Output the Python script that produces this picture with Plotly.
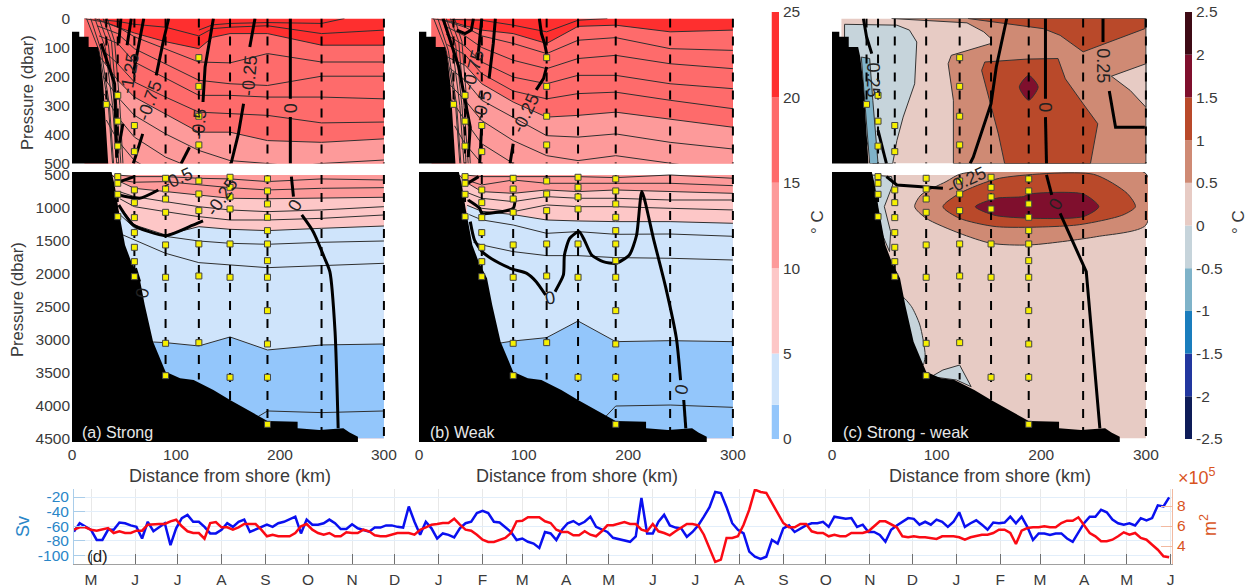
import pandas as pd
import plotly.graph_objects as go

W, H = 1252, 587
FONT = "Liberation Sans"
TXT = "#3a3a3a"

# ---------- colour levels ----------
TEMP_LEVELS = [0, 2, 5, 10, 15, 20, 25]
TEMP_COLORS = ["#93c6fb", "#cfe4fb", "#fdc7c7", "#fd9a9a", "#fe6b6b", "#fe2f2f"]
DIFF_LEVELS = [-2.5, -2, -1.5, -1, -0.5, 0, 0.5, 1, 1.5, 2, 2.5]
DIFF_COLORS = ["#0e1c58", "#22379f", "#1a7dbd", "#7fb3c9", "#c6d4db",
               "#e7cbc4", "#cf8a74", "#b9492a", "#7f0f2d", "#3e0a15"]
TEMP_TICKS = [0, 5, 10, 15, 20, 25]
DIFF_TICKS = ["-2.5", "-2", "-1.5", "-1", "-0.5", "0", "0.5", "1", "1.5", "2", "2.5"]

# ---------- bathymetry (km, dbar) ----------
LAND_UP_X = [0, 0, 7, 7, 16, 16, 25, 27, 30, 33, 35, 35]
LAND_UP_P = [510, 46, 46, 63, 63, 98, 98, 133, 225, 398, 500, 510]
LAND_LO_X = [0, 0, 38, 41, 44.5, 48, 51, 57, 65, 70, 78, 90, 104, 117, 136, 152, 174, 188,
             217, 217, 238, 261, 267, 275, 275]
LAND_LO_P = [4545, 450, 450, 651, 1005, 1283, 1560, 1813, 2065, 2470, 3025, 3480, 3580, 3606,
             3757, 3909, 4111, 4227, 4237, 4338, 4363, 4338, 4400, 4464, 4545]

# ---------- stations: x, bottom of dashed line ----------
ST_X = [33, 44, 60, 90, 122, 152, 188, 240, 300]
ST_UP_END = [296, 500, 500, 500, 500, 500, 500, 500, 500]
ST_LO_END = [500, 1131, 2040, 3540, 3600, 3909, 4277, 4363, 4490]

# ---------- sample points ----------
SAMP_UP_X = [33, 44, 44, 44, 60, 60, 122, 122, 122, 122]
SAMP_UP_P = [296, 265, 354, 440, 369, 459, 135, 234, 337, 436]
SAMP_LO_X = [44, 44, 44, 44, 60, 60, 60, 60, 60, 60, 60,
             90, 90, 90, 90, 90, 90, 90, 90,
             122, 122, 122, 122, 122, 122,
             152, 152, 152, 152, 152, 152, 152,
             188, 188, 188, 188, 188, 188, 188, 188, 188, 188, 188, 188]
SAMP_LO_P = [525, 626, 793, 1131, 727, 919, 1146, 1373, 1596, 1813, 2040,
             550, 712, 864, 1066, 1560, 2050, 3050, 3540,
             591, 788, 1040, 1545, 2030, 3040,
             535, 687, 833, 1015, 1545, 2050, 3565,
             560, 742, 939, 1141, 1343, 1545, 1798, 2050, 2555, 3060, 3565, 4277]

# ---------- coast-hugging contour lines (upper panels) ----------
COAST_LINES = [([14, 26, 35, 39], [0, 110, 300, 500]),
               ([18, 28, 36, 40], [0, 110, 300, 500]),
               ([22, 32, 39, 43], [0, 100, 300, 500]),
               ([26, 35, 41, 45], [0, 90, 300, 500]),
               ([30, 38, 43, 47], [0, 80, 300, 500]),
               ([34, 41, 46, 49], [0, 80, 300, 500])]

# ---------- panel a ----------
A_UP_T20 = ([12, 30, 44, 60, 90, 122, 135, 152, 188, 240, 300], [0, 12, 30, 50, 80, 104, 65, 52, 52, 92, 92])
A_UP_T15 = ([27, 44, 60, 90, 122, 152, 188, 240, 300], [133, 213, 271, 329, 392, 392, 421, 427, 415])
A_UP_LINES = [
    ([122, 135, 152, 188, 240, 262], [40, 22, 17, 14, 17, 0]),
    ([30, 44, 60, 90, 122, 135, 152, 188, 240, 300], [5, 10, 20, 30, 60, 35, 30, 25, 52, 40]),
    ([22, 44, 60, 90, 122, 152, 188, 240, 300], [0, 29, 63, 104, 150, 153, 121, 150, 150]),
    ([24, 44, 60, 90, 122, 152, 188, 240, 300], [25, 52, 104, 156, 213, 225, 231, 199, 199]),
    ([26, 44, 60, 90, 122, 152, 188, 240, 300], [60, 86, 150, 207, 265, 265, 271, 271, 277]),
    ([27, 44, 60, 90, 122, 152, 188, 240, 300], [100, 156, 219, 271, 323, 329, 334, 360, 357]),
    ([30, 44, 60, 90, 122, 152, 188, 215, 240, 300], [200, 271, 334, 398, 455, 490, 500, 510, 500, 488]),
    ([31, 44, 60, 90, 122], [260, 340, 409, 478, 525]),
    ([33, 44, 60, 90], [350, 421, 490, 550]),
]
A_LO_T10 = ([38, 46, 60, 90, 122, 152, 188, 240, 300], [500, 600, 702, 752, 803, 853, 860, 853, 838])
A_LO_T5 = ([46, 60, 90, 122, 152, 188, 240, 300], [980, 1258, 1409, 1283, 1323, 1343, 1308, 1273])
A_LO_T2 = ([78, 90, 122, 152, 188, 240, 300], [3030, 3040, 3090, 2954, 3151, 3075, 3060])
A_LO_LINES = [
    ([44, 60, 90, 122, 152, 188, 240, 300], [500, 525, 525, 550, 560, 600, 560, 576]),
    ([44, 60, 90, 122, 152, 188, 240, 300], [570, 610, 601, 651, 692, 727, 702, 692]),
    ([45, 60, 90, 122, 152, 188, 240, 300], [750, 828, 904, 980, 1030, 1056, 1030, 980]),
    ([46, 60, 90, 122, 152, 188, 240, 300], [860, 980, 1056, 1131, 1182, 1182, 1157, 1106]),
    ([46, 60, 90, 122, 152, 188, 240, 300], [1100, 1300, 1430, 1500, 1535, 1550, 1520, 1500]),
    ([49, 90, 122, 188, 300], [1409, 1687, 1828, 1904, 1838]),
    ([179, 188, 240, 300], [4160, 4075, 4100, 4075]),
]
A_UP_THICK = [
    ([136, 128, 126], [0, 167, 288]),
    ([176, 171], [0, 98]),
    ([165, 160, 153], [294, 398, 500]),
    ([210, 210], [0, 277]),
    ([210, 210], [340, 500]),
    ([93, 88, 81], [0, 75, 196]),
    ([69, 59], [0, 190]),
    ([57, 53], [0, 92]),
    ([47, 45], [0, 86]),
    ([68, 59], [398, 500]),
    ([49, 45], [363, 444]),
    ([113, 105], [444, 500]),
    ([28, 41, 43], [86, 225, 480]),
]
A_LO_THICK = [
    ([211, 213], [525, 828]),
    ([221, 232, 243, 248, 253, 256], [1106, 1359, 1762, 1965, 2874, 4338]),
    ([126, 113, 90, 59, 45], [1197, 1283, 1419, 1258, 954]),
    ([83, 65, 45], [727, 853, 803]),
    ([46, 60], [601, 525]),
    ([61, 65], [1914, 2116]),
]
A_UP_LABELS = [(55, 190, "-1.25", -80), (75, 282, "-0.75", -70), (171, 196, "-0.25", -85),
               (210, 308, "0", -90), (122, 363, "-0.5", -85)]
A_LO_LABELS = [(101, 560, "-0.5", -25), (144, 828, "-0.25", -55), (214, 965, "0", -60), (68, 2293, "0", -80)]

# ---------- panel b ----------
B_UP_T20 = ([12, 30, 44, 60, 90, 122, 152, 188, 240, 300], [0, 10, 25, 40, 52, 86, 27, 23, 46, 40])
B_UP_T15 = ([27, 44, 60, 90, 122, 152, 188, 240, 300], [133, 161, 225, 288, 340, 334, 323, 346, 375])
B_UP_LINES = [
    ([30, 44, 60, 90, 122, 152, 180], [3, 5, 6, 23, 46, 6, 0]),
    ([22, 44, 60, 90, 122, 152, 188, 240, 300], [5, 30, 60, 86, 121, 75, 66, 104, 110]),
    ([24, 44, 60, 90, 122, 152, 188, 240, 300], [25, 60, 100, 144, 173, 138, 127, 156, 173]),
    ([26, 44, 60, 90, 122, 152, 188, 240, 300], [55, 95, 150, 202, 225, 196, 196, 225, 242]),
    ([27, 44, 60, 90, 122, 152, 188, 240, 300], [90, 125, 190, 250, 277, 259, 254, 282, 311]),
    ([29, 44, 60, 90, 122, 152, 188, 240, 300], [170, 213, 282, 340, 404, 409, 398, 427, 450]),
    ([30, 44, 60, 90, 122, 152, 188, 240, 262], [230, 282, 352, 421, 473, 490, 473, 500, 510]),
    ([31, 44, 60, 90], [280, 352, 432, 500]),
    ([34, 44, 60], [370, 432, 500]),
]
B_LO_T10 = ([38, 46, 60, 90, 122, 152, 188, 240, 300], [500, 620, 752, 778, 727, 752, 727, 752, 778])
B_LO_T5 = ([46, 60, 90, 122, 152, 188, 240, 300], [960, 1050, 1100, 1182, 1197, 1207, 1207, 1232])
B_LO_T2 = ([78, 90, 122, 152, 188, 240, 300], [3045, 3015, 2964, 2712, 3025, 3010, 3025])
B_LO_LINES = [
    ([44, 60, 90, 122, 152, 188, 240, 300], [500, 525, 525, 525, 525, 540, 500, 550]),
    ([44, 60, 90, 122, 152, 188, 240, 300], [570, 651, 576, 626, 626, 626, 626, 662]),
    ([45, 60, 90, 122, 152, 188, 240, 300], [760, 853, 904, 828, 853, 853, 879, 879]),
    ([46, 60, 90, 122, 152, 188, 240, 300], [880, 1005, 1056, 954, 980, 980, 1005, 1030]),
    ([48, 60, 90, 122, 152, 188, 240, 300], [1100, 1180, 1258, 1384, 1358, 1399, 1394, 1429]),
    ([52, 60, 90, 122, 152, 188, 240, 300], [1520, 1560, 1661, 1722, 1722, 1752, 1762, 1788]),
    ([176, 188, 240, 300], [4200, 4000, 3985, 4020]),
]
B_UP_THICK = [
    ([115, 117, 120, 122], [0, 52, 86, 121]),
    ([122, 119, 112], [167, 207, 246]),
    ([73, 71, 67], [0, 86, 207]),
    ([60, 58, 56], [0, 63, 144]),
    ([52, 50, 44, 36], [0, 40, 52, 40]),
    ([23, 31, 38, 44, 49, 47], [0, 86, 167, 282, 375, 478]),
    ([60, 58], [363, 500]),
    ([90, 87], [432, 500]),
]
B_LO_THICK = [
    ([47, 58, 60, 90, 92], [879, 1005, 1081, 1005, 853]),
    ([49, 53, 61, 77, 90, 103, 112, 121], [1207, 1485, 1672, 1838, 1929, 1990, 2116, 2318]),
    ([130, 138, 139, 144, 153, 158, 165, 176, 188, 201, 208, 213, 224, 236, 246, 250],
     [2268, 2015, 1712, 1460, 1358, 1485, 1712, 1813, 1838, 1712, 1409, 752, 1459, 2217, 2975, 3606]),
    ([253, 255], [3909, 4338]),
    ([44, 57], [651, 525]),
]
B_UP_LABELS = [(102, 326, "-0.25", -65), (61, 300, "-0.5", -75), (52, 179, "-0.75", -75)]
B_LO_LABELS = [(98, 424, "-0.25", -65), (125, 2358, "0", -10), (251, 3757, "0", -80)]

# ---------- panel c ----------
C_UP_R05 = ([57, 90, 129, 145, 152, 152, 114, 111, 116, 116, 300, 300],
            [0, 6, 15, 46, 69, 86, 127, 156, 282, 500, 500, 0])
C_UP_TOP = ([130, 167, 202, 218, 240, 299, 299], [0, 17, 35, 58, 115, 35, 0])
C_UP_MID = ([146, 186, 216, 223, 240, 254, 247, 165, 159, 152, 143],
            [150, 140, 138, 208, 294, 363, 500, 500, 398, 300, 179])
C_UP_POCKET = ([267, 300, 300, 285], [199, 156, 306, 248])
C_UP_NEG = ([12, 62, 74, 81, 79, 68, 62, 58, 39, 12], [20, 23, 40, 81, 225, 340, 421, 500, 500, 130])
C_UP_NEG2 = ([28, 36, 39, 44, 36], [133, 138, 282, 500, 500])
C_UP_PEAK = ([188, 197, 188, 179], [196, 236, 282, 236])
C_LO_NEG_A = ([38, 57, 58, 50, 56, 55, 48, 38], [500, 525, 651, 980, 1359, 1661, 1400, 500])
C_LO_NEG_B = ([67, 76, 84, 89, 87, 74], [2343, 2495, 2773, 3227, 3379, 2924])
C_LO_NEG_C = ([95, 106, 122, 127, 133, 119], [3555, 3454, 3379, 3530, 3707, 3606])
C_LO_R05 = ([79, 85, 109, 124, 300, 300, 253, 188, 152, 122, 90], [980, 803, 601, 480, 480, 1258, 1434, 1561, 1535, 1384, 1157])
C_LO_R1 = ([106, 122, 160, 250, 282, 290, 278, 234, 157, 122], [980, 778, 550, 490, 778, 980, 1106, 1258, 1283, 1157])
C_LO_R15 = ([137, 157, 183, 189, 240, 255, 240, 157], [980, 853, 828, 788, 788, 980, 1131, 1116])
C_UP_THICK = [
    ([30, 33, 38], [0, 63, 121]),
    ([44, 52], [386, 500]),
    ([167, 157, 152, 135, 132], [0, 167, 294, 478, 500]),
    ([204, 204], [0, 277]),
    ([204, 205], [340, 500]),
    ([259, 259], [0, 81]),
    ([265, 271, 299], [250, 375, 375]),
]
C_LO_THICK = [
    ([205, 210], [500, 803]),
    ([218, 243, 256], [1081, 1965, 4338]),
    ([52, 62, 106], [525, 651, 702]),
]
C_UP_LABELS = [(39, 213, "0.25", 90), (204, 308, "0", 90), (259, 161, "0.25", 90)]
C_LO_LABELS = [(129, 576, "-0.25", -25), (214, 944, "0", -60)]

# ---------- panel d (every 4 days from 19 April) ----------
MONTH_LETTERS = ["M", "J", "J", "A", "S", "O", "N", "D", "J", "F", "M", "A", "M",
                 "J", "J", "A", "S", "O", "N", "D", "J", "F", "M", "A", "M", "J"]
SV = [-67.6, -56, -60.7, -65.3, -79, -79, -65, -65, -55, -56, -59, -61, -77, -54, -67, -61, -56, -86, -63, -49,
      -44.5, -54, -54, -61, -70, -70, -65, -56, -61, -54, -51, -68, -65, -61, -58, -61, -56, -54, -51, -47,
      -70, -51, -58, -58, -56, -51, -56, -64, -64,
      -57.5, -63, -65, -67.6, -62, -62, -59, -59, -61, -62, -33, -54, -72, -54, -63, -77, -70, -72, -75.5, -63,
      -56, -54, -42, -39, -42, -54, -55, -62, -68, -79, -77, -81.5, -84, -90, -68, -70, -79, -65, -56, -53,
      -58, -54, -47, -61, -65, -68, -76, -78, -79,
      -81.5, -74, -21.4, -70, -70, -54, -44.5, -59, -62, -63, -74.6, -68, -59, -47, -34, -13, -14.5, -34, -56, -65,
      -70, -95, -102, -105, -102, -79, -84, -63, -59, -68, -63, -59, -56, -56, -54, -61, -47, -48, -50, -49,
      -61, -58, -68, -68, -72, -81.5, -65, -59,
      -54, -49, -50, -58, -54, -58, -51, -54, -61, -54, -41, -61, -56, -52, -58, -65, -55, -56, -55, -47,
      -56, -47, -61, -79, -70, -70, -72, -70, -70, -77, -81.5, -68, -56, -47, -47, -37.5, -41, -51, -56, -58,
      -56, -59, -49, -52, -49, -31.5, -33, -20.5]
AREA = [5.63, 5.87, 5.87, 5.63, 5.53, 5.63, 5.8, 5.3, 5.47, 5.3, 5.3, 5.53, 5.53, 6.13, 6.2, 6.2, 6.2, 6.47, 6.63, 5.97,
        5.47, 5.3, 5.3, 4.73, 6.3, 6.4, 5.87, 5.87, 5.63, 5.87, 6.2, 6.2, 6.2, 5.63, 4.97, 5.13, 4.97, 4.97, 4.97, 5.3,
        5.97, 6.2, 5.63, 5.3, 5.13, 5.3, 4.97, 4.97, 5.37,
        5.3, 5.3, 5.63, 5.47, 5.07, 4.97, 4.97, 5.13, 5.3, 5.3, 5.3, 5.13, 5.63, 5.87, 6.13, 6.2, 6.3, 6.3, 6.73, 6.13,
        5.63, 5.53, 5.13, 4.63, 4.4, 4.4, 4.63, 4.8, 5.3, 6.47, 6.53, 6.87, 6.87, 6.87, 6.47, 6.3, 5.63, 5.4, 5.4, 5.07,
        5.07, 5.47, 5.13, 4.97, 5.47, 6.07, 6.07, 6.2, 6.4,
        6.2, 6.2, 5.63, 5.47, 6.2, 5.47, 5.3, 5.07, 5.47, 5.8, 6.2, 6.2, 6.07, 5.13, 3.8, 2.4, 2.63, 4.8, 4.8, 4.97,
        6.13, 7.63, 9.63, 9.4, 9.3, 8.3, 7.3, 6.3, 5.87, 5.87, 6.2, 6.2, 5.47, 5.3, 5.3, 4.97, 5.13, 4.97, 4.97, 5.3,
        5.3, 5.3, 5.47, 5.97, 6.47, 6.47, 6.13, 5.87,
        4.97, 4.87, 4.97, 4.87, 4.87, 4.8, 4.7, 4.97, 4.97, 4.97, 4.87, 4.63, 4.87, 4.97, 5.13, 5.13, 5.3, 5.63, 5.63, 5.3,
        4.2, 5.53, 5.8, 5.87, 5.87, 5.97, 5.87, 5.87, 6.3, 6.53, 6.53, 6.87, 6.07, 5.3, 4.97, 4.47, 4.47, 4.63, 4.97, 5.37,
        5.13, 5.3, 4.8, 4.63, 4.13, 3.63, 2.97, 2.87]

TICK_SIZE = 15.5

# ---------- layout helpers ----------
def px_x(p):
    return p / W


def px_y(p):
    return 1 - p / H


fig = go.Figure()
PANELS = {"a": (72, 386), "b": (419, 735), "c": (832, 1148)}
UP_Y = (18.5, 163.5)
LO_Y = (172, 442)
ax_index = {}
n = 0
for name, (x0, x1) in PANELS.items():
    for part, (y0, y1), rng in (("up", UP_Y, [500, 0]), ("lo", LO_Y, [4545, 455])):
        n += 1
        ax_index[name + part] = n
        is_lo = part == "lo"
        fig.update_layout({
            f"xaxis{n}": dict(domain=[px_x(x0), px_x(x1)], range=[0, 302], anchor=f"y{n}", automargin=False,
                              showgrid=False, zeroline=False, ticks="",
                              showticklabels=is_lo, tickmode="array", tickvals=[0, 100, 200, 300],
                              tickfont=dict(family=FONT, size=TICK_SIZE, color=TXT), ticklabelstandoff=1),
            f"yaxis{n}": dict(domain=[px_y(y1), px_y(y0)], range=rng, anchor=f"x{n}", automargin=False,
                              showgrid=False, zeroline=False, ticks="",
                              showticklabels=(name == "a"), tickmode="array",
                              tickvals=[0, 100, 200, 300, 400, 500] if not is_lo else
                              [500, 1000, 1500, 2000, 2500, 3000, 3500, 4000, 4500],
                              tickfont=dict(family=FONT, size=TICK_SIZE, color=TXT), ticklabelstandoff=1),
        })


def refs(key):
    i = ax_index[key]
    return dict(xaxis=f"x{i}", yaxis=f"y{i}", showlegend=False, hoverinfo="skip")


def poly(key, x, p, color, edge="#333333", smooth=False):
    shape = dict(shape="spline", smoothing=0.7) if smooth else {}
    fig.add_trace(go.Scatter(x=list(x) + [x[0]], y=list(p) + [p[0]], mode="lines", fill="toself",
                             fillcolor=color, line=dict(color=edge, width=1, **shape), **refs(key)))


def band(key, line, bottom, color):
    x, p = line
    fig.add_trace(go.Scatter(x=list(x) + [x[-1], x[0], x[0]], y=list(p) + [bottom, bottom, p[0]], mode="lines",
                             fill="toself", fillcolor=color, line=dict(width=0), **refs(key)))


def rect(key, x0, x1, p0, p1, color):
    fig.add_trace(go.Scatter(x=[x0, x1, x1, x0, x0], y=[p0, p0, p1, p1, p0], mode="lines", fill="toself",
                             fillcolor=color, line=dict(width=0), **refs(key)))


def thin(key, lines):
    for x, p in lines:
        fig.add_trace(go.Scatter(x=x, y=p, mode="lines", line=dict(color="#2f2f2f", width=1), **refs(key)))


def overlay(key, is_lo, thick, labels, smooth=False):
    land_x, land_p = (LAND_LO_X, LAND_LO_P) if is_lo else (LAND_UP_X, LAND_UP_P)
    fig.add_trace(go.Scatter(x=land_x, y=land_p, mode="lines", fill="toself", fillcolor="black",
                             line=dict(width=0), **refs(key)))
    for sx, up_end, lo_end in zip(ST_X, ST_UP_END, ST_LO_END):
        start, end = (500, lo_end) if is_lo else (0, up_end)
        if end <= start:
            continue
        fig.add_trace(go.Scatter(x=[sx, sx], y=[start, end], mode="lines",
                                 line=dict(color="black", width=2, dash="9px,9px"), **refs(key)))
    shape = dict(shape="spline", smoothing=0.6) if smooth else {}
    for x, p in thick:
        fig.add_trace(go.Scatter(x=x, y=p, mode="lines", line=dict(color="black", width=3, **shape), **refs(key)))
    sx, sp = (SAMP_LO_X, SAMP_LO_P) if is_lo else (SAMP_UP_X, SAMP_UP_P)
    fig.add_trace(go.Scatter(x=sx, y=sp, mode="markers",
                             marker=dict(symbol="square", size=6, color="#f6f000",
                                         line=dict(color="#444444", width=1)), **refs(key)))
    i = ax_index[key]
    for lx, lp, text, ang in labels:
        fig.add_annotation(x=lx, y=lp, xref=f"x{i}", yref=f"y{i}", text=text, textangle=ang, showarrow=False,
                           font=dict(family=FONT, size=18, color="#222222"))


C = TEMP_COLORS
# panels a and b
for name, up20, up15, uplines, lo10, lo5, lo2, lolines, upth, loth, uplab, lolab in (
    ("a", A_UP_T20, A_UP_T15, A_UP_LINES, A_LO_T10, A_LO_T5, A_LO_T2, A_LO_LINES,
     A_UP_THICK, A_LO_THICK, A_UP_LABELS, A_LO_LABELS),
    ("b", B_UP_T20, B_UP_T15, B_UP_LINES, B_LO_T10, B_LO_T5, B_LO_T2, B_LO_LINES,
     B_UP_THICK, B_LO_THICK, B_UP_LABELS, B_LO_LABELS),
):
    up, lo = name + "up", name + "lo"
    rect(up, 12, 300, 0, 500, C[5])
    band(up, up20, 500, C[4])
    band(up, up15, 500, C[3])
    thin(up, uplines + [up20, up15] + COAST_LINES)
    overlay(up, False, upth, uplab)
    rect(lo, 30, 300, 500, 4490, C[3])
    band(lo, lo10, 4490, C[2])
    band(lo, lo5, 4490, C[1])
    band(lo, lo2, 4490, C[0])
    thin(lo, lolines + [lo10, lo5, lo2])
    overlay(lo, True, loth, lolab, smooth=True)

# panel c
D = dict(zip(["n05", "n1", "p0", "p05", "p1", "p15"],
             [DIFF_COLORS[4], DIFF_COLORS[3], DIFF_COLORS[5], DIFF_COLORS[6], DIFF_COLORS[7], DIFF_COLORS[8]]))
rect("cup", 9, 300, 0, 500, D["p0"])
poly("cup", *C_UP_R05, D["p05"])
poly("cup", *C_UP_TOP, D["p1"])
poly("cup", *C_UP_MID, D["p1"])
poly("cup", *C_UP_POCKET, D["p0"])
poly("cup", *C_UP_NEG, D["n05"])
poly("cup", *C_UP_NEG2, D["n1"])
poly("cup", *C_UP_PEAK, D["p15"], smooth=True)
overlay("cup", False, C_UP_THICK, C_UP_LABELS)
rect("clo", 30, 300, 500, 4490, D["p0"])
poly("clo", *C_LO_NEG_A, D["n05"])
poly("clo", *C_LO_NEG_B, D["n05"], smooth=True)
poly("clo", *C_LO_NEG_C, D["n05"])
poly("clo", *C_LO_R05, D["p05"], smooth=True)
poly("clo", *C_LO_R1, D["p1"], smooth=True)
poly("clo", *C_LO_R15, D["p15"], smooth=True)
overlay("clo", True, C_LO_THICK, C_LO_LABELS)

# colour bars
for idx, (x0, x1, levels, colors, tv, tt, rng) in enumerate((
    (771.5, 779, TEMP_LEVELS, TEMP_COLORS, TEMP_TICKS, [str(t) for t in TEMP_TICKS], [0, 25]),
    (1185, 1192, DIFF_LEVELS, DIFF_COLORS, [float(t) for t in DIFF_TICKS], DIFF_TICKS, [-2.5, 2.5]),
)):
    i = 7 + idx
    fig.update_layout({
        f"xaxis{i}": dict(domain=[px_x(x0), px_x(x1)], range=[0, 1], anchor=f"y{i}", visible=False, automargin=False),
        f"yaxis{i}": dict(domain=[px_y(439), px_y(12)], range=rng, anchor=f"x{i}", side="right", automargin=False,
                          showgrid=False, zeroline=False, ticks="", tickmode="array", tickvals=tv, ticktext=tt,
                          tickfont=dict(family=FONT, size=TICK_SIZE, color=TXT), ticklabelstandoff=3,
                          showline=False),
    })
    for lo_v, hi_v, col in zip(levels[:-1], levels[1:], colors):
        fig.add_trace(go.Scatter(x=[0, 1, 1, 0, 0], y=[lo_v, lo_v, hi_v, hi_v, lo_v], mode="lines", fill="toself",
                                 fillcolor=col, line=dict(width=0), xaxis=f"x{i}", yaxis=f"y{i}",
                                 showlegend=False, hoverinfo="skip"))

# panel d
dates_sv = pd.date_range("2017-04-19", periods=len(SV), freq="4D")
dates_area = pd.date_range("2017-04-19", periods=len(AREA), freq="4D")
month_starts = pd.date_range("2017-05-01", periods=len(MONTH_LETTERS), freq="MS")
BLUE_TXT = "#2a86c8"
ORANGE = "#d9541e"
fig.update_layout(
    xaxis9=dict(domain=[px_x(74), px_x(1172)], range=["2017-04-19", "2019-06-02"], anchor="y9", type="date",
                automargin=False, tickmode="array", tickvals=list(month_starts), ticktext=MONTH_LETTERS,
                ticks="inside", ticklen=10, tickcolor="#707070", tickwidth=1,
                showgrid=True, gridcolor="#e8e8e8", gridwidth=1, zeroline=False,
                showline=True, linecolor="#a0a0a0", linewidth=1,
                tickfont=dict(family=FONT, size=TICK_SIZE, color=TXT), ticklabelstandoff=1),
    yaxis9=dict(domain=[px_y(564), px_y(489)], range=[-112, -9], anchor="x9", automargin=False,
                tickmode="array", tickvals=[-100, -80, -60, -40, -20], ticktext=["-100", "-80", "-60", "-40", "-20"],
                ticks="inside", ticklen=11, tickcolor="#a9cdea", showgrid=True, gridcolor="#e2eefa", zeroline=False,
                showline=True, linecolor="#a9cdea", linewidth=1,
                tickfont=dict(family=FONT, size=TICK_SIZE, color=BLUE_TXT), ticklabelstandoff=1),
    yaxis10=dict(domain=[px_y(564), px_y(489)], range=[2.2, 9.7], anchor="x9", overlaying="y9", side="right",
                 automargin=False, tickmode="array", tickvals=[4, 6, 8], ticks="inside", ticklen=11,
                 tickcolor="#f2b9a0", showgrid=False, zeroline=False, showline=True, linecolor="#f2b9a0", linewidth=1,
                 tickfont=dict(family=FONT, size=TICK_SIZE, color=ORANGE), ticklabelstandoff=1),
)
fig.add_trace(go.Scatter(x=dates_sv, y=SV, mode="lines", line=dict(color="#0a10f0", width=2.5),
                         xaxis="x9", yaxis="y9", showlegend=False, hoverinfo="skip"))
fig.add_trace(go.Scatter(x=dates_area, y=AREA, mode="lines", line=dict(color="#fb0a14", width=2.5),
                         xaxis="x9", yaxis="y10", showlegend=False, hoverinfo="skip"))


def paper_text(x, y, text, size=16.5, color=TXT, angle=0, anchor="center"):
    fig.add_annotation(x=px_x(x), y=px_y(y), xref="paper", yref="paper", text=text, showarrow=False,
                       textangle=angle, xanchor=anchor, yanchor="middle",
                       font=dict(family=FONT, size=size, color=color))


paper_text(27, 93, "Pressure (dbar)", angle=-90)
paper_text(17, 300, "Pressure (dbar)", angle=-90)
for cx in (230, 577, 990):
    paper_text(cx, 476, "Distance from shore (km)", size=18)
paper_text(817, 222, "° C", angle=-90, size=17)
paper_text(1238, 222, "° C", angle=-90, size=17)
paper_text(23, 527, "Sv", color=BLUE_TXT, angle=-90, size=18)
paper_text(1208, 525, "m<sup>2</sup>", color=ORANGE, angle=-90, size=18)
paper_text(1176, 476, "×10<sup>5</sup>", color=ORANGE, anchor="left", size=18)
paper_text(85, 556, "(d)", size=17, color="#222222", anchor="left")
paper_text(80, 432, "(a) Strong", size=16, color="#e8e8e8", anchor="left")
paper_text(428, 432, "(b) Weak", size=16, color="#e8e8e8", anchor="left")
paper_text(841, 432, "(c) Strong - weak", size=16.5, color="#e8e8e8", anchor="left")

fig.update_layout(width=W, height=H, margin=dict(l=0, r=0, t=0, b=0, autoexpand=False),
                  plot_bgcolor="white", paper_bgcolor="white", font=dict(family=FONT, color=TXT))
fig.write_html("out.html", config={"displayModeBar": False},
               post_script="document.body.style.margin='0';document.body.style.overflow='hidden';")
